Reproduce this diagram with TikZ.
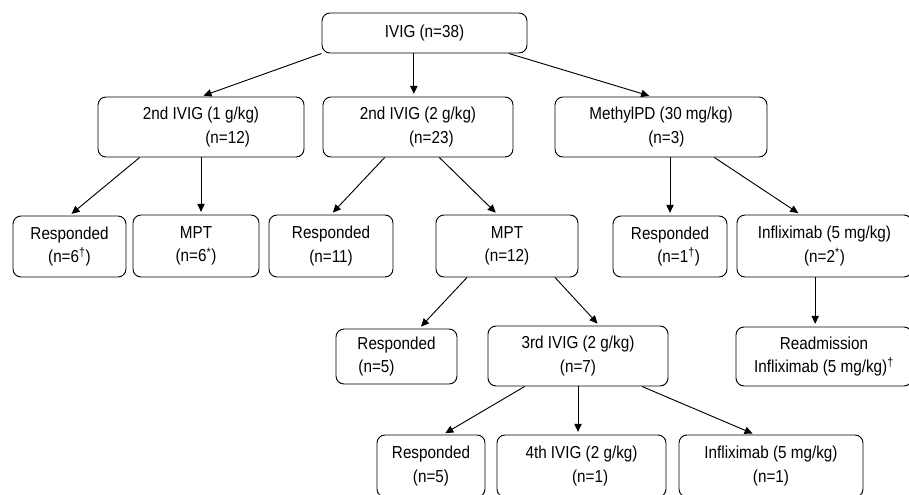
\documentclass[tikz,border=0pt]{standalone}
\usepackage{fontspec}
\setmainfont{Liberation Sans}[FakeStretch=0.88]
\usepackage{tikz}
\usetikzlibrary{positioning, arrows.meta}

\begin{document}
\begin{tikzpicture}[x=0.75pt, y=-0.75pt,
        box/.style={rectangle, draw, rounded corners=6pt, line width=0.7pt,
                    align=center, inner sep=0pt,
                    font=\fontsize{13}{17.5}\selectfont},
        sz/.style 2 args={minimum width=#1*0.75pt, minimum height=#2*0.75pt},
        arrow/.style={-{Triangle[length=6pt, width=5.5pt]}, line width=0.7pt, shorten >=2pt}]

        \useasboundingbox (0,0) rectangle (909,494);

        % top levels
        \node[box, sz={205}{40}]  (ivig)  at (424.5,33)  {IVIG (n=38)};
        \node[box, sz={206}{60}]  (ivigA) at (201,127)   {2nd IVIG (1 g/kg)\\\hspace*{40pt}(n=12)};
        \node[box, sz={190}{60}]  (ivigB) at (418,127)   {2nd IVIG (2 g/kg)\\\hspace*{20pt}(n=23)};
        \node[box, sz={212}{60}]  (mpd)   at (661,127)   {MethylPD (30 mg/kg)\\\hspace*{8pt}(n=3)};

        \node[box, sz={113}{61}]  (respA) at (69.5,246.5) {Responded\\(n=6\textsuperscript{†})};
        \node[box, sz={126}{62}]  (mptA)  at (196,246)    {MPT\\(n=6\textsuperscript{*})};
        \node[box, sz={124}{62}]  (respB) at (331,246)    {Responded\\(n=11)};
        \node[box, sz={142}{62}]  (mptB)  at (507,246)    {MPT\\(n=12)};
        \node[box, sz={114}{61}]  (respC) at (670,246.5)  {Responded\\\hspace*{13pt}(n=1\textsuperscript{†})};
        \node[box, sz={175}{62}]  (inflA) at (824.5,246)  {Infliximab (5 mg/kg)\\(n=2\textsuperscript{*})};

        \node[box, sz={121}{55}]  (respD) at (396.5,356.5) {Responded\\(n=5)\hspace*{30pt}};
        \node[box, sz={180}{60}]  (ivig3) at (578,356)     {3rd IVIG (2 g/kg)\\(n=7)};
        \node[box, sz={176}{59}]  (readm) at (824,356.5)   {Readmission\\Infliximab (5 mg/kg)\textsuperscript{†}};

        \node[box, sz={108}{62}]  (respE) at (431,466)   {Responded\\(n=5)};
        \node[box, sz={169}{62}]  (ivig4) at (581.5,466) {4th IVIG (2 g/kg)\\\hspace*{13pt}(n=1)};
        \node[box, sz={184}{62}]  (inflB) at (771,466)   {Infliximab (5 mg/kg)\\(n=1)};

        % arrows
        \draw[arrow] (ivig.south west) -- (ivigA.north);
        \draw[arrow] ([xshift=-8pt]ivig.south) -- ([xshift=-8pt]ivig.south |- ivigB.north);
        \draw[arrow] ([xshift=-14pt]ivig.south east) -- ([xshift=-7pt]mpd.north);

        \draw[arrow] ([xshift=-46pt]ivigA.south) -- (respA.north);
        \draw[arrow] (ivigA.south) -- (ivigA.south |- mptA.north);
        \draw[arrow] ([xshift=-25pt]ivigB.south) -- (respB.north);
        \draw[arrow] ([xshift=16pt]ivigB.south) -- ([xshift=-7pt]mptB.north);
        \draw[arrow] (mpd.south -| respC.north) -- (respC.north);
        \draw[arrow] ([xshift=40pt]mpd.south) -- ([xshift=-18pt]inflA.north);

        \draw[arrow] ([xshift=-7pt]inflA.south) -- ([xshift=-7pt]inflA.south |- readm.north);
        \draw[arrow] ([xshift=-30pt]mptB.south) -- ([xshift=17pt]respD.north);
        \draw[arrow] ([xshift=36pt]mptB.south) -- ([xshift=16pt]ivig3.north);

        \draw[arrow] ([xshift=-40pt]ivig3.south) -- ([xshift=9pt]respE.north);
        \draw[arrow] (ivig3.south) -- (ivig3.south |- ivig4.north);
        \draw[arrow] ([xshift=48pt]ivig3.south) -- ([xshift=-12pt]inflB.north);
    \end{tikzpicture}
\end{document}
